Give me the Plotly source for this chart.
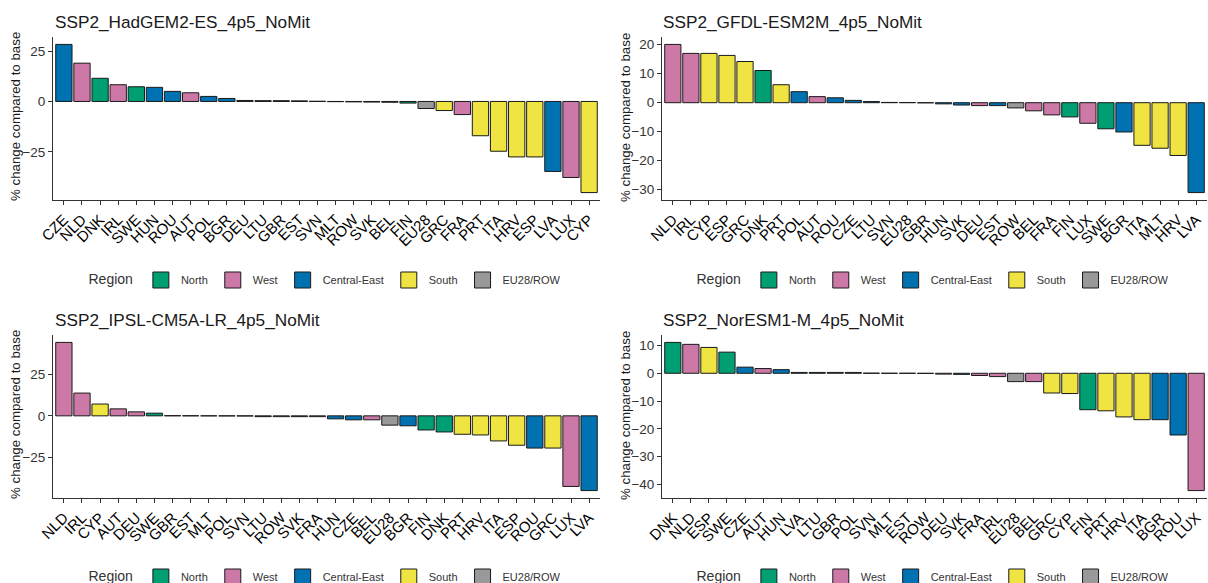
import plotly.graph_objects as go

# ---------------- data ----------------
titles = ["SSP2_HadGEM2-ES_4p5_NoMit", "SSP2_GFDL-ESM2M_4p5_NoMit",
          "SSP2_IPSL-CM5A-LR_4p5_NoMit", "SSP2_NorESM1-M_4p5_NoMit"]

regions = ["North", "West", "Central-East", "South", "EU28/ROW"]
region_colors = ["#009E73", "#CC79A7", "#0072B2", "#F0E442", "#999999"]

region_of = {
    "DNK": "North", "SWE": "North", "FIN": "North",
    "NLD": "West", "IRL": "West", "AUT": "West", "DEU": "West", "BEL": "West",
    "FRA": "West", "LUX": "West", "GBR": "West",
    "CZE": "Central-East", "HUN": "Central-East", "ROU": "Central-East",
    "POL": "Central-East", "BGR": "Central-East", "LTU": "Central-East",
    "EST": "Central-East", "SVK": "Central-East", "LVA": "Central-East",
    "SVN": "Central-East",
    "CYP": "South", "ESP": "South", "GRC": "South", "PRT": "South",
    "ITA": "South", "HRV": "South", "MLT": "South",
    "EU28": "EU28/ROW", "ROW": "EU28/ROW",
}

countries_had = ["CZE", "NLD", "DNK", "IRL", "SWE", "HUN", "ROU", "AUT", "POL", "BGR",
                 "DEU", "LTU", "GBR", "EST", "SVN", "MLT", "ROW", "SVK", "BEL", "FIN",
                 "EU28", "GRC", "FRA", "PRT", "ITA", "HRV", "ESP", "LVA", "LUX", "CYP"]
values_had = [28.3, 19.0, 11.5, 8.3, 7.3, 7.0, 5.0, 4.3, 2.5, 1.5,
              0.5, 0.4, 0.4, 0.3, 0.1, -0.1, -0.2, -0.3, -0.4, -0.8,
              -3.5, -4.5, -6.5, -17.0, -24.7, -27.5, -27.5, -34.7, -37.7, -45.2]

countries_gfdl = ["NLD", "IRL", "CYP", "ESP", "GRC", "DNK", "PRT", "POL", "AUT", "ROU",
                  "CZE", "LTU", "SVN", "EU28", "GBR", "HUN", "SVK", "DEU", "EST", "ROW",
                  "BEL", "FRA", "FIN", "LUX", "SWE", "BGR", "ITA", "MLT", "HRV", "LVA"]
values_gfdl = [20.1, 17.0, 17.0, 16.3, 14.2, 11.1, 6.2, 3.8, 2.1, 1.7,
               0.8, 0.4, 0.1, 0.05, -0.05, -0.4, -0.8, -1.0, -1.0, -1.8,
               -2.8, -4.2, -4.9, -7.1, -9.0, -10.1, -14.7, -15.7, -18.2, -31.0]

countries_ipsl = ["NLD", "IRL", "CYP", "AUT", "DEU", "SWE", "GBR", "EST", "MLT", "POL",
                  "SVN", "LTU", "ROW", "SVK", "FRA", "HUN", "CZE", "BEL", "EU28", "BGR",
                  "FIN", "DNK", "PRT", "HRV", "ITA", "ESP", "ROU", "GRC", "LUX", "LVA"]
values_ipsl = [44.2, 13.7, 7.1, 4.2, 2.4, 1.6, 0.1, 0.05, 0.0, -0.05,
               -0.1, -0.5, -0.5, -0.5, -0.5, -1.8, -2.4, -2.4, -5.6, -6.0,
               -8.5, -9.7, -11.1, -11.5, -15.1, -17.7, -19.4, -19.4, -42.5, -45.0]

countries_nor = ["DNK", "NLD", "ESP", "SWE", "CZE", "AUT", "HUN", "LVA", "LTU", "GBR",
                 "POL", "SVN", "MLT", "EST", "ROW", "DEU", "SVK", "FRA", "IRL", "EU28",
                 "BEL", "GRC", "CYP", "FIN", "PRT", "HRV", "ITA", "BGR", "ROU", "LUX"]
values_nor = [11.1, 10.4, 9.3, 7.6, 2.2, 1.7, 1.3, 0.3, 0.3, 0.3,
              0.3, 0.05, 0.0, 0.0, -0.05, -0.3, -0.4, -0.8, -1.2, -3.0,
              -3.0, -7.1, -7.3, -13.1, -13.5, -15.7, -16.7, -16.7, -22.2, -42.2]

y_ticks = [[-25, 0, 25], [-30, -20, -10, 0, 10, 20], [-25, 0, 25], [-40, -30, -20, -10, 0, 10]]

panels = [(countries_had, values_had), (countries_gfdl, values_gfdl),
          (countries_ipsl, values_ipsl), (countries_nor, values_nor)]

# ---------------- layout geometry ----------------
W, H = 1208, 583
x_dom = [[53 / W, 600 / W], [662 / W, 1207 / W]]
y_dom = [[1 - 200 / H, 1 - 37 / H], [1 - 498 / H, 1 - 335 / H]]
FONT = "Liberation Sans, Arial, sans-serif"

fig = go.Figure()
legend_names = ["legend", "legend2", "legend3", "legend4"]

for i, (cats, vals) in enumerate(panels):
    ax = "" if i == 0 else str(i + 1)
    for reg, col in zip(regions, region_colors):
        xs = [c for c in cats if region_of[c] == reg]
        ys = [v for c, v in zip(cats, vals) if region_of[c] == reg]
        fig.add_trace(go.Bar(
            x=xs, y=ys, name=reg, marker=dict(color=col, line=dict(color="#1a1a1a", width=1)),
            xaxis="x" + ax, yaxis="y" + ax, showlegend=False, hoverinfo="x+y",
        ))
    # legend keys (larger square swatches, like ggplot keys)
    for reg, col in zip(regions, region_colors):
        fig.add_trace(go.Scatter(
            x=[None], y=[None], mode="markers", name=reg,
            marker=dict(symbol="square", size=16, color=col,
                        line=dict(color="#1a1a1a", width=1)),
            xaxis="x" + ax, yaxis="y" + ax, legend=legend_names[i], showlegend=True,
        ))
    col_i, row_i = i % 2, i // 2
    lo, hi = min(vals), max(vals)
    pad = 0.05 * (hi - lo)
    xa = dict(domain=x_dom[col_i], anchor="y" + ax, type="category",
              categoryorder="array", categoryarray=cats, range=[-0.6, len(cats) - 0.4],
              showline=True, linecolor="#333333", linewidth=1, ticks="outside",
              ticklen=4, tickcolor="#333333", tickangle=-45, showgrid=False,
              tickfont=dict(family=FONT, size=15, color="black"))
    ya = dict(domain=y_dom[row_i], anchor="x" + ax, range=[lo - pad, hi + pad],
              tickvals=y_ticks[i], showline=True, linecolor="#333333", linewidth=1,
              ticks="outside", ticklen=4, tickcolor="#333333", showgrid=False,
              zeroline=False, tickfont=dict(family=FONT, size=13.5, color="#333333"))
    fig.update_layout({"xaxis" + ax: xa, "yaxis" + ax: ya})

annotations = []
title_x = [53 / W, 661 / W]
title_y = [1 - 22 / H, 1 - 320 / H]
ytitle_x = [15 / W, 625 / W]
ytitle_y = [1 - 117 / H, 1 - 415 / H]
for i, t in enumerate(titles):
    c, r = i % 2, i // 2
    annotations.append(dict(text=t, x=title_x[c], y=title_y[r], xref="paper", yref="paper",
                            xanchor="left", yanchor="middle", showarrow=False,
                            font=dict(family=FONT, size=17.2, color="#1a1a1a")))
    annotations.append(dict(text="% change compared to base", x=ytitle_x[c], y=ytitle_y[r],
                            xref="paper", yref="paper", xanchor="center", yanchor="middle",
                            textangle=-90, showarrow=False,
                            font=dict(family=FONT, size=13.3, color="#1a1a1a")))

leg_x = [326.5 / W, 934.5 / W]
leg_y = [1 - 280 / H, 1 - 577 / H]
legend_common = dict(orientation="h", xanchor="center", yanchor="middle",
                     font=dict(family=FONT, size=11, color="#333333"),
                     title=dict(text="Region", font=dict(family=FONT, size=14, color="#333333")),
                     bgcolor="rgba(0,0,0,0)", itemclick=False, itemdoubleclick=False,
                     itemsizing="trace", tracegroupgap=0)
legends = {}
for i, ln in enumerate(legend_names):
    c, r = i % 2, i // 2
    legends[ln] = dict(x=leg_x[c], y=leg_y[r], **legend_common)

fig.update_layout(
    width=W, height=H, margin=dict(l=0, r=0, t=0, b=0, autoexpand=False),
    paper_bgcolor="white", plot_bgcolor="white", barmode="overlay", bargap=0.1,
    annotations=annotations, font=dict(family=FONT), **legends,
)

fig.write_html(
    "out.html",
    config={"displayModeBar": False},
    post_script="document.body.style.margin='0';document.body.style.overflow='hidden';",
)
